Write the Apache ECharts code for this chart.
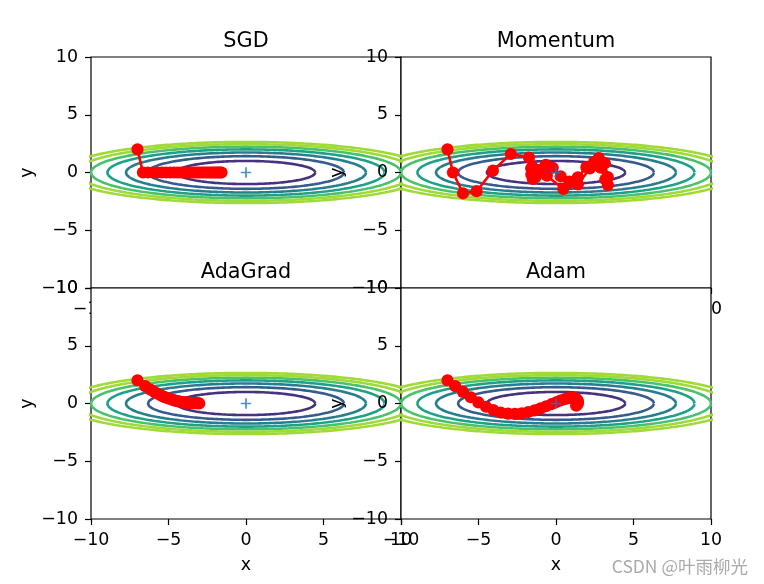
<!DOCTYPE html>
<html><head><meta charset="utf-8">
<script src="https://cdn.jsdelivr.net/npm/echarts@6/dist/echarts.min.js"></script>
<style>html,body{margin:0;padding:0;background:#fff;}#c{width:764px;height:584px;}</style>
</head><body><div id="c"></div>
<script>
// ---------- data ----------
const titles = ['SGD', 'Momentum', 'AdaGrad', 'Adam'];
const axisMin = -10, axisMax = 10, axisStep = 5;

const sgdX = [-7.00,-6.65,-6.32,-6.00,-5.70,-5.42,-5.15,-4.89,-4.64,-4.41,-4.19,-3.98,-3.78,-3.59,-3.41,-3.24,-3.08,-2.93,-2.78,-2.64,-2.51,-2.38,-2.26,-2.15,-2.04,-1.94,-1.84,-1.75,-1.66,-1.58];
const sgdY = [2.00,0,0,0,0,0,0,0,0,0,0,0,0,0,0,0,0,0,0,0,0,0,0,0,0,0,0,0,0,0];

const momX = [-7.00,-6.65,-6.00,-5.12,-4.07,-2.92,-1.74,-0.59,0.47,1.41,2.18,2.76,3.15,3.34,3.35,3.18,2.88,2.46,1.96,1.41,0.85,0.30,-0.21,-0.66,-1.03,-1.31,-1.50,-1.59,-1.60,-1.52];
const momY = [2.00,0.00,-1.80,-1.62,0.16,1.60,1.30,-0.28,-1.42,-1.03,0.35,1.24,0.80,-0.40,-1.08,-0.61,0.42,0.93,0.46,-0.42,-0.79,-0.33,0.41,0.67,0.23,-0.39,-0.56,-0.15,0.37,0.47];

const adaX = [-7.00,-6.50,-6.16,-5.89,-5.66,-5.46,-5.28,-5.11,-4.96,-4.81,-4.68,-4.56,-4.44,-4.33,-4.22,-4.12,-4.02,-3.92,-3.83,-3.75,-3.66,-3.58,-3.51,-3.43,-3.36,-3.29,-3.22,-3.15,-3.09,-3.02];
const adaY = [2.00,1.50,1.20,0.98,0.82,0.68,0.57,0.48,0.41,0.35,0.29,0.25,0.21,0.18,0.15,0.13,0.11,0.09,0.08,0.07,0.06,0.05,0.04,0.03,0.03,0.02,0.02,0.02,0.02,0.01];

const adamX = [-7.00,-6.50,-6.00,-5.50,-5.01,-4.52,-4.04,-3.57,-3.10,-2.65,-2.21,-1.79,-1.38,-1.00,-0.64,-0.30,0.01,0.29,0.54,0.76,0.95,1.10,1.23,1.32,1.38,1.41,1.42,1.40,1.36,1.30];
const adamY = [2.00,1.50,1.01,0.54,0.10,-0.28,-0.57,-0.78,-0.88,-0.90,-0.85,-0.74,-0.60,-0.42,-0.24,-0.06,0.11,0.26,0.37,0.45,0.49,0.48,0.45,0.38,0.29,0.19,0.08,-0.02,-0.11,-0.19];

const originPoint = [0, 0];
// contour levels of f(x, y) = x^2/20 + y^2 ; values above maskLevel were set to 0
const contourLevels = [1, 2, 3, 4, 5, 6];
const maskLevel = 7;
const watermark = 'CSDN @叶雨柳光';

// ---------- styles ----------
const levelColors = ['#46327e', '#365c8d', '#277f8e', '#1fa187', '#4ac16d', '#a0da39'];
const FONT = 'DejaVu Sans';
const paths = [[sgdX, sgdY], [momX, momY], [adaX, adaY], [adamX, adamY]];

function contourPoints(level) {
  // x^2/20 + y^2 = level  ->  ellipse
  const a = Math.sqrt(20 * level), b = Math.sqrt(level);
  const pts = [];
  for (let i = 0; i <= 720; i++) {
    const t = i / 720 * 2 * Math.PI;
    pts.push([a * Math.cos(t), b * Math.sin(t)]);
  }
  return pts;
}
const minus = v => String(v).replace('-', '\u2212');

const grid = [], xAxis = [], yAxis = [], series = [], title = [];
for (let i = 0; i < 4; i++) {
  const col = i % 2, row = Math.floor(i / 2);
  const zl = row;
  grid.push({left: 91 + col * 310, top: 57 + row * 231, width: 310, height: 231,
    show: true, backgroundColor: '#fff', borderColor: '#000', borderWidth: 1.2,
    containLabel: false, zlevel: zl, z: 0});
  const common = {
    gridIndex: i, type: 'value', min: axisMin, max: axisMax, interval: axisStep,
    zlevel: zl, z: col === 1 ? 10 : 1,
    axisLine: {show: false, onZero: false}, splitLine: {show: false},
    axisTick: {show: true, inside: false, length: 6, lineStyle: {color: '#000', width: 1.2}},
    nameLocation: 'middle',
    nameTextStyle: {fontFamily: FONT, fontSize: 17.4, color: '#000', align: 'center', verticalAlign: 'middle'}
  };
  xAxis.push(Object.assign({}, common, {
    position: 'bottom', name: 'x', nameGap: 46.5,
    axisLabel: {margin: 12.5, fontFamily: FONT, fontSize: 17.4, color: '#000', formatter: minus,
      showMinLabel: true, showMaxLabel: true}
  }));
  yAxis.push(Object.assign({}, common, {
    position: 'left', name: 'y', nameGap: 64, nameRotate: 90,
    axisLabel: {margin: 13, fontFamily: FONT, fontSize: 17.4, color: '#000', formatter: minus,
      showMinLabel: true, showMaxLabel: true}
  }));
  title.push({text: titles[i], left: 91 + col * 310 + 155, top: 31 + row * 231,
    textAlign: 'center', padding: 0, zlevel: zl, z: 20,
    textStyle: {fontFamily: FONT, fontSize: 20.8, fontWeight: 'normal', color: '#000'}});

  contourLevels.forEach((lv, k) => {
    series.push({type: 'line', xAxisIndex: i, yAxisIndex: i, data: contourPoints(lv),
      symbol: 'none', showSymbol: false, silent: true, zlevel: zl, z: 2,
      lineStyle: {color: levelColors[k], width: 2.6}});
  });
  series.push({type: 'line', xAxisIndex: i, yAxisIndex: i, data: contourPoints(maskLevel),
    symbol: 'none', showSymbol: false, silent: true, zlevel: zl, z: 2,
    lineStyle: {color: levelColors[levelColors.length - 1], width: 2.6}});

  const [px, py] = paths[i];
  series.push({type: 'line', xAxisIndex: i, yAxisIndex: i,
    data: px.map((v, j) => [v, py[j]]),
    symbol: 'circle', symbolSize: 12.2, showSymbol: true, silent: true, zlevel: zl, z: 3,
    itemStyle: {color: '#ff0000', borderWidth: 0},
    lineStyle: {color: '#ff0000', width: 2.6}});
  series.push({type: 'scatter', xAxisIndex: i, yAxisIndex: i, data: [originPoint],
    symbol: 'path://M5,0H7V5H12V7H7V12H5V7H0V5H5Z', symbolSize: 10.4, silent: true,
    zlevel: zl, z: 4, itemStyle: {color: '#1f77b4'}});
}

const chart = echarts.init(document.getElementById('c'), null, {renderer: 'canvas'});
chart.setOption({
  animation: false,
  backgroundColor: '#fff',
  title, grid, xAxis, yAxis, series,
  graphic: [{type: 'text', x: 748, y: 566, zlevel: 1, z: 100, silent: true,
    style: {text: watermark, fill: '#aaaaaa', font: '17.5px "Noto Sans CJK SC"',
      align: 'right', verticalAlign: 'middle', textAlign: 'right', textVerticalAlign: 'middle'}}]
});
</script>
</body></html>
